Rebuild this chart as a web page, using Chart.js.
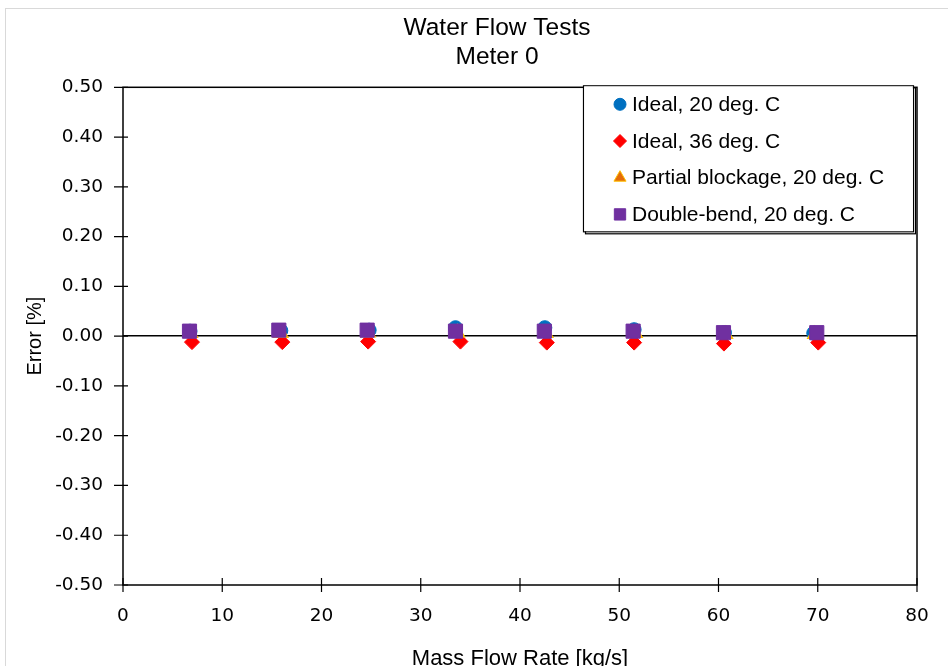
<!DOCTYPE html>
<html>
<head>
<meta charset="utf-8">
<title>Water Flow Tests</title>
<script src="https://cdn.jsdelivr.net/npm/chart.js@4.4.1/dist/chart.umd.min.js"></script>
<style>
  html, body { margin: 0; padding: 0; width: 948px; height: 666px; overflow: hidden; background: #fff; }
  #frame { position: absolute; left: 5px; top: 8px; width: 1000px; height: 700px; border: 1px solid #d9d9d9; }
  #wrap { position: absolute; left: 0; top: 0; width: 994px; height: 690px; }
</style>
</head>
<body>
<div id="frame"></div>
<div id="wrap"><canvas id="chart"></canvas></div>
<script>
// series labels
const seriesNames = [
    'Ideal, 20 deg. C',
    'Ideal, 36 deg. C',
    'Partial blockage, 20 deg. C',
    'Double-bend, 20 deg. C'
];

// mass flow rate [kg/s] and error [%]
const ideal20X = [6.75, 15.9, 24.8, 33.5, 42.5, 51.5, 60.6, 69.6];
const ideal20Y = [0.010, 0.011, 0.012, 0.017, 0.017, 0.013, 0.007, 0.006];

const ideal36X = [6.95, 16.05, 24.7, 34.0, 42.7, 51.5, 60.55, 70.05];
const ideal36Y = [-0.012, -0.012, -0.011, -0.011, -0.013, -0.013, -0.015, -0.013];

const blockageX = [6.8, 15.9, 24.7, 33.7, 42.6, 51.6, 60.7, 69.7];
const blockageY = [0.006, 0.006, 0.007, 0.007, 0.006, 0.006, 0.004, 0.004];

const doubleBendX = [6.7, 15.7, 24.6, 33.5, 42.45, 51.4, 60.5, 69.9];
const doubleBendY = [0.010, 0.012, 0.012, 0.010, 0.010, 0.010, 0.007, 0.007];

const xTicksMin = 0, xTicksMax = 80, xStep = 10;
const yTicksMin = -0.5, yTicksMax = 0.5, yStep = 0.1;

function toPoints(xs, ys) {
    return xs.map((x, i) => ({ x: x, y: ys[i] }));
}

const tickFont = { family: 'DejaVu Sans', size: 18.5 };

// plot box + cross tick marks
const plotFrame = {
    id: 'plotFrame',
    beforeDatasetsDraw(chart) {
        const ctx = chart.ctx;
        const a = chart.chartArea;
        const xs = chart.scales.x, ys = chart.scales.y;
        ctx.save();
        ctx.strokeStyle = '#000';
        ctx.lineWidth = 1.5;
        ctx.strokeRect(a.left, a.top, a.right - a.left, a.bottom - a.top);
        ctx.lineWidth = 1.2;
        ctx.beginPath();
        ys.ticks.forEach((t, i) => {
            const py = ys.getPixelForTick(i);
            ctx.moveTo(a.left - 9, py);
            ctx.lineTo(a.left + 5, py);
        });
        xs.ticks.forEach((t, i) => {
            const px = xs.getPixelForTick(i);
            ctx.moveTo(px, a.bottom - 7);
            ctx.lineTo(px, a.bottom + 7);
        });
        ctx.stroke();
        ctx.restore();
    }
};

// boxed legend inside the plot, top right
const boxLegend = {
    id: 'boxLegend',
    afterDraw(chart) {
        const ctx = chart.ctx;
        const a = chart.chartArea;
        const right = a.right - 4, top = a.top - 2;
        const w = 330, h = 146;
        const left = right - w;
        ctx.save();
        ctx.fillStyle = '#fff';
        ctx.fillRect(left, top, w, h);
        ctx.strokeStyle = '#000';
        ctx.lineWidth = 1.2;
        ctx.strokeRect(left + 2.5, top + 2.5, w, h);
        ctx.strokeRect(left + 0.5, top + 0.5, w, h);
        ctx.fillStyle = '#fff';
        ctx.fillRect(left + 1.2, top + 1.2, w - 1.4, h - 1.4);
        ctx.font = '21px "Liberation Sans", Arial, sans-serif';
        ctx.textBaseline = 'middle';
        chart.data.datasets.forEach((ds, i) => {
            const cy = top + 19 + i * 36.7;
            const mx = left + 37;
            ctx.fillStyle = ds.backgroundColor;
            ctx.strokeStyle = ds.borderColor;
            ctx.lineWidth = 1;
            Chart.helpers.drawPoint(ctx, {
                pointStyle: ds.pointStyle,
                radius: ds.legendRadius,
                borderWidth: 1,
                rotation: 0
            }, mx, cy);
            ctx.fillStyle = '#000';
            ctx.fillText(ds.label, left + 49, cy + 1);
        });
        ctx.restore();
    }
};

const config = {
    type: 'scatter',
    data: {
        datasets: [{
            label: seriesNames[0],
            data: toPoints(ideal20X, ideal20Y),
            pointStyle: 'circle',
            pointRadius: 7,
            legendRadius: 6,
            backgroundColor: '#0070C0',
            borderColor: '#0070C0',
            order: 4
        }, {
            label: seriesNames[1],
            data: toPoints(ideal36X, ideal36Y),
            pointStyle: 'rectRot',
            pointRadius: 7.5,
            legendRadius: 6.5,
            backgroundColor: '#FF0000',
            borderColor: '#FF0000',
            order: 3
        }, {
            label: seriesNames[2],
            data: toPoints(blockageX, blockageY),
            pointStyle: 'triangle',
            pointRadius: 8,
            legendRadius: 7,
            backgroundColor: '#E46C0A',
            borderColor: '#FFC000',
            borderWidth: 1.5,
            order: 2
        }, {
            label: seriesNames[3],
            data: toPoints(doubleBendX, doubleBendY),
            pointStyle: 'rect',
            pointRadius: 10,
            legendRadius: 8,
            backgroundColor: '#7030A0',
            borderColor: '#7030A0',
            order: 1
        }]
    },
    options: {
        responsive: true,
        maintainAspectRatio: false,
        animation: false,
        layout: { padding: 0 },
        plugins: {
            legend: { display: false },
            tooltip: { enabled: false },
            title: {
                display: true,
                text: ['Water Flow Tests', 'Meter 0'],
                color: '#000',
                font: { family: 'Liberation Sans', size: 24.5, weight: 'normal', lineHeight: 1.2 },
                padding: { top: 13.5, bottom: 15 }
            }
        },
        scales: {
            x: {
                type: 'linear',
                min: xTicksMin,
                max: xTicksMax,
                afterFit(scale) { scale.height = 105; },
                ticks: { stepSize: xStep, color: '#000', font: tickFont, padding: 12, maxRotation: 0 },
                grid: { display: false },
                border: { display: false },
                title: {
                    display: true,
                    text: 'Mass Flow Rate [kg/s]',
                    color: '#000',
                    font: { family: 'Liberation Sans', size: 22 },
                    padding: { top: 0, bottom: 18 }
                }
            },
            y: {
                type: 'linear',
                min: yTicksMin,
                max: yTicksMax,
                afterFit(scale) { scale.width = 123; },
                ticks: {
                    stepSize: yStep,
                    color: '#000',
                    font: tickFont,
                    padding: 20,
                    callback: v => (Math.abs(v) < 1e-9 ? 0 : v).toFixed(2)
                },
                grid: {
                    drawTicks: false,
                    lineWidth: 1.5,
                    color: c => (c.tick && Math.abs(c.tick.value) < 1e-9) ? '#000' : 'rgba(0,0,0,0)'
                },
                border: { display: false },
                title: {
                    display: true,
                    text: 'Error [%]',
                    color: '#000',
                    font: { family: 'Liberation Sans', size: 20 },
                    padding: { top: 23, bottom: 0 }
                }
            },
            // empty right-hand spacer so the title centres like the original
            spacer: {
                type: 'linear',
                position: 'right',
                min: yTicksMin,
                max: yTicksMax,
                afterFit(scale) { scale.width = 77; },
                ticks: { display: false },
                grid: { display: false },
                border: { display: false }
            }
        }
    },
    plugins: [plotFrame, boxLegend]
};

const myChart = new Chart(document.querySelector('#chart'), config);
</script>
</body>
</html>
